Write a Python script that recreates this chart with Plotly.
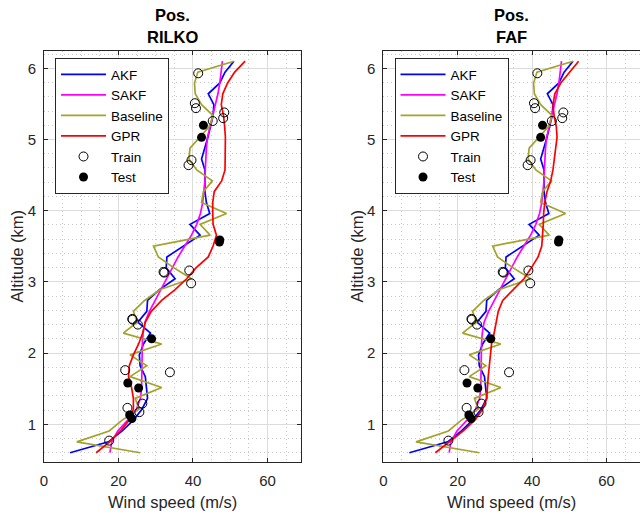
import plotly.graph_objects as go

# ---------------- data ----------------
altitude_km = [0.600, 0.753, 0.906, 1.058, 1.211, 1.364, 1.517, 1.669, 1.822, 1.975,
               2.128, 2.281, 2.433, 2.586, 2.739, 2.892, 3.044, 3.197, 3.350, 3.503,
               3.656, 3.808, 3.961, 4.114, 4.267, 4.419, 4.572, 4.725, 4.878, 5.031,
               5.183, 5.336, 5.489, 5.642, 5.794, 5.947, 6.100]

akf = [7.0, 17.3, 21.0, 24.0, 26.3, 27.8, 27.5, 27.2, 25.8, 25.6,
       26.7, 28.6, 25.2, 27.6, 27.8, 31.0, 35.2, 32.8, 33.0, 37.5,
       41.9, 39.2, 44.5, 43.6, 43.2, 43.2, 43.2, 42.3, 43.2, 44.0,
       44.7, 45.4, 45.6, 44.1, 47.2, 48.6, 51.0]

sakf = [17.7, 18.2, 19.8, 22.5, 24.8, 25.9, 26.2, 26.2, 26.2, 26.3,
        26.4, 26.6, 27.1, 28.3, 29.8, 31.3, 32.8, 34.4, 36.0, 37.8,
        39.6, 41.0, 42.0, 42.6, 43.0, 43.2, 43.3, 43.4, 43.6, 43.9,
        44.6, 45.4, 46.1, 46.7, 47.2, 47.6, 47.9]

baseline = [25.8, 8.8, 17.5, 21.0, 25.5, 24.5, 31.6, 23.1, 27.6, 23.1,
            31.6, 21.3, 25.0, 24.0, 27.0, 31.2, 39.6, 34.9, 30.7, 29.4,
            44.6, 41.9, 49.0, 42.3, 42.8, 45.2, 41.0, 38.9, 39.2, 41.8,
            44.4, 45.4, 42.3, 40.6, 40.4, 41.3, 51.0]

gpr_rilko = [14.0, 17.6, 20.5, 22.9, 24.0, 24.0, 23.5, 22.7, 22.9, 24.0,
             25.4, 26.5, 27.2, 28.8, 31.6, 35.2, 38.3, 40.8, 44.1, 45.4,
             46.3, 45.4, 45.3, 45.3, 45.7, 47.7, 48.6, 48.7, 48.7, 48.7,
             48.5, 48.2, 47.6, 48.0, 49.3, 51.2, 54.0]

gpr_faf = [14.0, 17.8, 21.5, 24.6, 26.7, 27.8, 27.9, 28.2, 28.5, 28.7,
           29.1, 29.8, 30.4, 30.9, 32.1, 35.1, 37.8, 39.8, 41.6, 42.6,
           42.9, 43.0, 43.1, 43.4, 44.0, 45.0, 45.6, 46.0, 46.3, 46.7,
           46.5, 45.9, 45.6, 46.1, 47.7, 50.1, 52.5]

train_speed = [41.4, 40.5, 40.8, 48.4, 48.1, 45.3, 39.6, 38.8, 32.1, 32.3,
               39.0, 39.5, 23.7, 23.8, 25.2, 21.8, 33.8, 22.4, 26.4, 25.6, 17.5]
train_alt = [5.93, 5.51, 5.44, 5.38, 5.30, 5.26, 4.71, 4.64, 3.14, 3.13,
             3.16, 2.98, 2.48, 2.47, 2.40, 1.76, 1.73, 1.23, 1.29, 1.17, 0.77]

test_speed = [42.8, 42.3, 47.2, 47.1, 28.9, 22.5, 25.4, 23.0, 23.6]
test_alt = [5.20, 5.03, 3.59, 3.56, 2.20, 1.58, 1.51, 1.13, 1.08]

panel_titles = [("Pos.", "RILKO"), ("Pos.", "FAF")]
gpr_series = [gpr_rilko, gpr_faf]
x_ticks = [0, 20, 40, 60]
y_ticks = [1, 2, 3, 4, 5, 6]

# ---------------- layout helpers ----------------
W, H = 640, 514
FONT = "Liberation Sans, Arial, Helvetica, sans-serif"
DARK = "#262626"

def fx(p):
    return p / W

def fy(p):
    return 1 - p / H

x_domains = [[fx(44), fx(301)], [fx(383.3), 1.0]]
y_domain = [fy(462.3), fy(50.7)]
centers = [172.5, 511.7]

fig = go.Figure()

for i in range(2):
    xa = "x" if i == 0 else "x2"
    ya = "y" if i == 0 else "y2"
    lg = "legend" if i == 0 else "legend2"
    line_series = [("AKF", akf, "#0000ff"), ("SAKF", sakf, "#ff00ff"),
                   ("Baseline", baseline, "#a3a32b"), ("GPR", gpr_series[i], "#ff0000")]
    for name, vals, col in line_series:
        fig.add_trace(go.Scatter(x=vals, y=altitude_km, mode="lines", name=name,
                                 line=dict(color=col, width=1.7),
                                 xaxis=xa, yaxis=ya, legend=lg))
    fig.add_trace(go.Scatter(x=train_speed, y=train_alt, mode="markers", name="Train",
                             marker=dict(symbol="circle-open", size=9, color="black",
                                         line=dict(width=1, color="black")),
                             xaxis=xa, yaxis=ya, legend=lg))
    fig.add_trace(go.Scatter(x=test_speed, y=test_alt, mode="markers", name="Test",
                             marker=dict(symbol="circle", size=9, color="black"),
                             xaxis=xa, yaxis=ya, legend=lg))

def xaxis_cfg(dom, anchor):
    return dict(domain=dom, range=[0, 69], tickvals=x_ticks, anchor=anchor,
                ticks="inside", ticklen=4,
                tickcolor=DARK, showline=True, linecolor=DARK, linewidth=1, mirror="allticks",
                showgrid=True, gridcolor="#dcdcdc", gridwidth=1, zeroline=False,
                minor=dict(dtick=5, showgrid=True, gridcolor="#c8c8c8", griddash="1px,3px",
                           ticks=""),
                tickfont=dict(family=FONT, size=15, color=DARK),
                ticklabelstandoff=5, automargin=False)

def yaxis_cfg(anchor, mirror):
    return dict(domain=y_domain, range=[0.4655, 6.2475], tickvals=y_ticks, anchor=anchor,
                ticks="inside", ticklen=4, tickcolor=DARK, showline=True, linecolor=DARK,
                linewidth=1, mirror=mirror, showgrid=True, gridcolor="#dcdcdc", gridwidth=1,
                zeroline=False,
                minor=dict(dtick=0.2, tick0=0, showgrid=True, gridcolor="#c8c8c8",
                           griddash="1px,3px", ticks=""),
                tickfont=dict(family=FONT, size=15, color=DARK),
                ticklabelstandoff=4, automargin=False)

legend_common = dict(bgcolor="white", bordercolor=DARK, borderwidth=1,
                     font=dict(family=FONT, size=13.5, color="black"),
                     xanchor="left", yanchor="top", itemwidth=45, tracegroupgap=0)

annotations = []
for i in range(2):
    cx = centers[i]
    annotations.append(dict(text="<b>%s</b>" % panel_titles[i][0], x=fx(cx), y=fy(14.5),
                            xref="paper", yref="paper", showarrow=False,
                            font=dict(family=FONT, size=16.5, color="black"),
                            xanchor="center", yanchor="middle"))
    annotations.append(dict(text="<b>%s</b>" % panel_titles[i][1], x=fx(cx), y=fy(37),
                            xref="paper", yref="paper", showarrow=False,
                            font=dict(family=FONT, size=16.5, color="black"),
                            xanchor="center", yanchor="middle"))
    annotations.append(dict(text="Wind speed (m/s)", x=fx(cx), y=fy(502),
                            xref="paper", yref="paper", showarrow=False,
                            font=dict(family=FONT, size=16.5, color=DARK),
                            xanchor="center", yanchor="middle"))
    annotations.append(dict(text="Altitude (km)", x=fx([16, 356][i]), y=fy(256.5),
                            xref="paper", yref="paper", showarrow=False, textangle=-90,
                            font=dict(family=FONT, size=16.5, color=DARK),
                            xanchor="center", yanchor="middle"))

fig.update_layout(
    template="none",
    width=W, height=H,
    margin=dict(l=0, r=0, t=0, b=0, autoexpand=False),
    paper_bgcolor="white", plot_bgcolor="white",
    showlegend=True,
    xaxis=xaxis_cfg(x_domains[0], "y"),
    xaxis2=xaxis_cfg(x_domains[1], "y2"),
    yaxis=yaxis_cfg("x", "allticks"),
    yaxis2=yaxis_cfg("x2", False),
    legend=dict(x=fx(55), y=fy(58), **legend_common),
    legend2=dict(x=fx(394.5), y=fy(58), **legend_common),
    annotations=annotations,
)

fig.write_html("out.html")
